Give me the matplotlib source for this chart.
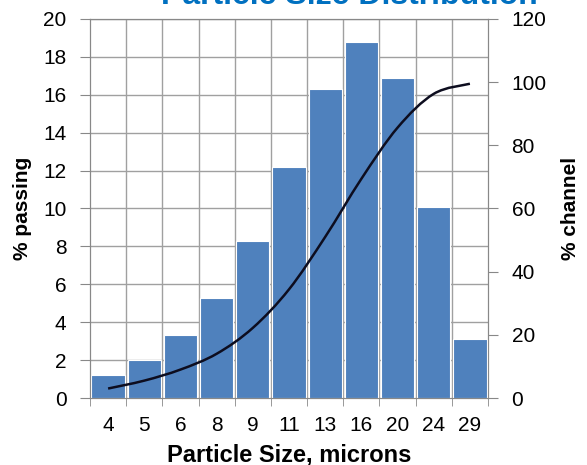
import matplotlib
matplotlib.use("Agg")
import matplotlib.pyplot as plt
from matplotlib.path import Path
from matplotlib.patches import PathPatch
import numpy as np

sizes = ["4", "5", "6", "8", "9", "11", "13", "16", "20", "24", "29"]
pct_channel_bars = [1.2, 2.0, 3.3, 5.3, 8.3, 12.2, 16.3, 18.8, 16.9, 10.1, 3.1]
cumulative = [3.0, 5.5, 9.0, 14.0, 22.2, 34.4, 51.0, 69.4, 85.6, 96.3, 99.5]

plt.rcParams['font.family'] = ['Liberation Sans', 'DejaVu Sans']

fig = plt.figure(figsize=(5.87, 4.65), dpi=100)
L, R, B, T = 90 / 587, 488 / 587, 1 - 398 / 465, 1 - 19 / 465
ax = fig.add_axes([L, B, R - L, T - B])
x = np.arange(len(sizes))
ax.bar(x, pct_channel_bars, width=0.92, color="#4F81BD", edgecolor="white", linewidth=0.8, zorder=3)
ax.set_xlim(-0.5, len(sizes) - 0.5)
ax.set_ylim(0, 20)
ax.set_yticks(range(0, 21, 2))
ax.set_xticks(x)
ax.set_xticklabels(sizes)
ax.set_xticks(np.arange(-0.5, len(sizes), 1), minor=True)
ax.tick_params(axis='x', which='major', length=0, labelsize=15, pad=13)
ax.tick_params(axis='x', which='minor', length=6, color="#888888")
ax.tick_params(axis='y', length=7, color="#888888", labelsize=15, pad=10)
ax.grid(False)
for v in range(2, 21, 2):
    ax.axhline(v, color="#A0A0A0", linewidth=1.0, zorder=1)
for b in np.arange(0.5, len(sizes) - 0.5, 1):
    ax.axvline(b, color="#A0A0A0", linewidth=1.0, zorder=1)
for s in ax.spines.values():
    s.set_color("#888888")
ax.set_ylabel("% passing", fontsize=15, fontweight='bold', labelpad=8)
ax.set_xlabel("Particle Size, microns", fontsize=17, fontweight='bold', labelpad=6)

ax2 = ax.twinx()
# smoothed (Catmull-Rom -> cubic Bezier) line through the cumulative points
pts = np.column_stack([x, cumulative]).astype(float)
verts = [tuple(pts[0])]
codes = [Path.MOVETO]
for i in range(len(pts) - 1):
    p0 = pts[i - 1] if i > 0 else pts[i]
    p1, p2 = pts[i], pts[i + 1]
    p3 = pts[i + 2] if i + 2 < len(pts) else pts[i + 1]
    c1 = p1 + (p2 - p0) / 6.0
    c2 = p2 - (p3 - p1) / 6.0
    verts += [tuple(c1), tuple(c2), tuple(p2)]
    codes += [Path.CURVE4] * 3
ax2.add_patch(PathPatch(Path(verts, codes), facecolor='none', edgecolor="#0d0d1f",
                        linewidth=1.8, zorder=5))
ax2.set_ylim(0, 120)
ax2.set_yticks(range(0, 121, 20))
ax2.tick_params(axis='y', length=7, color="#888888", labelsize=15, pad=10)
for s in ax2.spines.values():
    s.set_color("#888888")
ax2.set_ylabel("% channel", fontsize=15, fontweight='bold', labelpad=10)

fig.text(349 / 587, 1 - 4 / 465, "Particle Size Distribution", ha='center', va='baseline',
         fontsize=23, fontweight='bold', color="#0070C0")

fig.savefig("out.png", dpi=100)
